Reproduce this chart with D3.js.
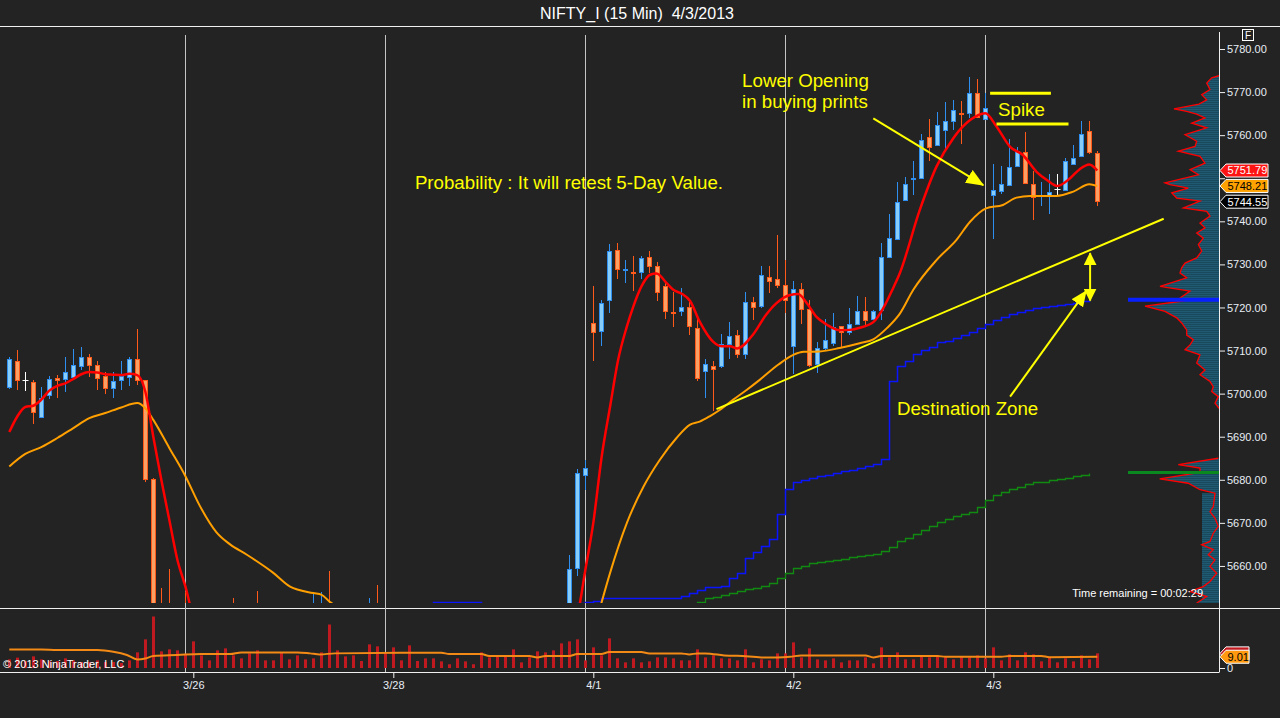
<!DOCTYPE html>
<html>
<head>
<meta charset="utf-8">
<title>NIFTY_I (15 Min) 4/3/2013</title>
<script src="https://cdn.jsdelivr.net/npm/d3@7/dist/d3.min.js"></script>
<style>
  html, body { margin: 0; padding: 0; background: #232323; overflow: hidden; }
  svg { display: block; font-family: Arial, "Liberation Sans", sans-serif; }
</style>
</head>
<body>
<svg id="chart" width="1280" height="718"></svg>
<script>
// 15 minute bars, 3/25 (partial) .. 4/3, indexed from the first bar on screen
const opens = [
  5701.5,5707.5,5703.1,5702.7,5694.5,5699.6,5703.6,5703.4,5703.8,5706.3,5708.5,5706.6,5704.1,5701.3,5703.1,5703.8,5708.0,5703.1,5680.2,5632.0,5630.0,5626.0,5628.0,
  5625,5634,5631,5636,5641,5638,5636,5640,5643,5639,5635,5638,5633,5637,5642,5640,5643,5648,5641,5637,5640,5635,5636,5645,5640,
  5636,5639,5641,5637,5640,5642,5639,5641,5643,5640,5642,5644,5641,5643,5645,5642,5646,5644,5646,5643,5647,5645,5648,5659.4,5681.0,
  5716.4,5714.4,5721.8,5733.3,5728.7,5728.3,5728.1,5731.7,5729.6,5724.9,5719.0,5719.1,5720.0,5715.2,5705.2,5706.4,5706.4,5711.5,5713.6,5709.2,5721.2,5720.3,5727.0,5726.6,5725.2,
  5711.0,5724.2,5719.6,5706.8,5710.6,5711.7,5715.7,5714.3,5716.1,5719.1,5717.3,5719.4,5731.7,5735.9,5744.9,5749.8,5750.0,5759.5,5757.7,5761.2,5763.2,5765.1,5765.1,5769.7,5763.7,
  5746.1,5747.0,5748.4,5752.8,5756.0,5748.6,5745.9,5746.1,5747.5,5747.2,5753.2,5755.1,5760.9,5755.8
];
const highs = [
  5708.4,5710.2,5705.0,5703.2,5701.6,5704.0,5704.4,5708.5,5710.4,5710.8,5709.3,5707.5,5705.0,5705.0,5707.5,5708.4,5715.0,5703.1,5680.5,5654.9,5659.3,5645.0,5654.0,
  5641,5642,5638,5646,5648,5652.6,5644,5647,5654.2,5645,5641,5646,5640,5645,5649,5653.7,5654.0,5658.9,5647,5644,5646,5642,5652.6,5655.6,5648,
  5644,5645,5647,5643,5646,5648,5644,5645,5647,5645,5646,5649,5646,5648,5649,5648,5649,5648,5650,5649,5650,5649.5,5662.6,5682.4,5684.6,
  5725.0,5721.8,5734.8,5734.9,5731.0,5732.0,5732.0,5733.1,5730.5,5725.8,5723.6,5724.5,5721.2,5717.9,5708.0,5707.5,5713.8,5716.6,5714.7,5723.6,5722.4,5729.6,5729.6,5736.8,5731.0,
  5726.1,5725.6,5721.7,5712.0,5717.3,5718.7,5715.7,5719.8,5722.6,5722.4,5719.4,5734.9,5741.6,5749.1,5750.2,5753.9,5760.2,5763.7,5765.3,5767.6,5768.1,5767.9,5773.4,5773.0,5769.7,
  5753.2,5752.8,5759.0,5757.2,5760.7,5751.6,5749.1,5750.9,5750.9,5754.6,5757.7,5763.2,5763.2,5756.3
];
const lows = [
  5701.3,5701.1,5700.9,5693.1,5694.5,5698.9,5699.3,5700.7,5703.4,5705.8,5704.0,5701.1,5700.1,5699.2,5701.0,5701.9,5702.2,5679.7,5628.0,5624.0,5622.0,5620.0,5622.0,
  5616,5628,5624,5630,5635,5634,5631,5633,5637,5632,5629,5630,5628,5632,5637,5636,5639,5638,5634,5630,5633,5629,5632,5636,5634,
  5630,5633,5635,5631,5636,5637,5634,5637,5638,5636,5639,5638,5636,5639,5640,5637,5642,5640,5641,5639,5642,5641,5646,5658.0,5677.8,
  5707.8,5711.3,5719.0,5726.9,5725.9,5724.1,5726.9,5728.2,5721.8,5717.5,5715.8,5718.3,5713.8,5703.1,5699.2,5696.2,5706.2,5708.2,5708.5,5708.2,5717.3,5720.2,5723.6,5724.7,5718.9,
  5704.8,5716.4,5706.4,5705.0,5710.3,5711.2,5710.8,5713.8,5716.1,5716.1,5717.3,5717.3,5731.7,5735.9,5744.9,5746.3,5750.0,5754.2,5757.7,5756.3,5761.4,5758.1,5764.2,5764.2,5763.7,
  5736.1,5746.5,5748.4,5752.8,5748.8,5740.5,5743.7,5741.9,5746.1,5747.2,5753.2,5755.1,5755.8,5743.7
];
const closes = [
  5708.0,5703.1,5703.1,5695.7,5699.0,5703.4,5703.1,5705.0,5706.6,5708.5,5706.6,5703.6,5701.3,5702.9,5704.1,5708.0,5703.1,5680.2,5632.0,5630.0,5626.0,5628.0,5625.0,
  5634,5631,5636,5641,5638,5636,5640,5643,5639,5635,5638,5633,5637,5642,5644,5646,5648,5641,5637,5640,5635,5638,5645,5640,5643,
  5639,5641,5637,5640,5642,5639,5641,5643,5640,5642,5644,5641,5643,5645,5642,5646,5644,5646,5643,5647,5645,5648,5659.4,5681.5,5682.7,
  5714.3,5721.0,5733.1,5729.0,5728.9,5728.1,5731.4,5729.6,5723.6,5719.1,5718.8,5720.0,5715.7,5703.6,5706.8,5705.7,5711.5,5713.3,5709.2,5721.2,5720.0,5727.5,5726.1,5725.2,5721.7,
  5724.2,5719.6,5706.6,5710.6,5712.4,5715.4,5714.3,5716.1,5719.1,5717.0,5719.1,5731.7,5736.1,5744.4,5748.6,5750.0,5758.8,5757.2,5762.3,5763.2,5765.8,5764.9,5769.7,5764.2,5766.2,
  5747.2,5748.6,5752.6,5756.3,5748.8,5745.6,5746.1,5746.8,5747.5,5753.9,5754.6,5760.2,5756.0,5744.55
];
const volumes = [
  6.9,8.3,5.6,9.3,6.9,5.6,5.6,7.7,6.1,4.8,4.8,6.1,4.8,4.8,4.0,6.1,12.5,22.9,41.2,13.3,14.9,14.1,11.4,
  21.3,10.1,6.1,14.1,15.7,10.1,7.7,11.7,14.1,6.1,6.1,12.5,6.9,10.1,6.9,7.7,12.5,34.8,14.1,9.3,10.1,5.6,18.9,17.3,11.7,
  16.5,6.1,18.1,5.6,7.7,7.7,5.3,3.0,7.7,5.3,3.0,12.5,8.5,9.3,10.1,14.9,4.5,8.5,13.3,12.5,14.1,19.7,21.3,22.9,6.1,
  16.5,10.1,23.7,7.7,4.5,7.7,4.5,5.3,8.5,8.5,7.7,6.1,6.1,14.9,8.5,10.1,7.7,7.7,6.1,14.9,4.5,6.9,6.1,11.7,11.7,
  20.5,8.5,15.7,6.9,6.1,7.7,4.5,6.1,6.1,8.5,3.7,16.5,8.5,12.5,6.9,6.9,10.1,8.5,10.1,8.5,6.9,9.3,8.5,10.1,7.7,
  16.5,6.1,10.9,6.1,12.5,10.9,5.3,8.5,4.5,7.7,5.3,10.1,6.9,11.7
];

// moving averages as [bar, value]
const fastMA = [[0,5691.1],[1,5694.7],[2,5696.9],[3,5697.2],[4,5698.6],[5,5700.7],[6,5701.8],[7,5702.4],[8,5703.4],[9,5704.5],[10,5705.0],[11,5704.9],[12,5704.5],[13,5704.4],[14,5704.3],[15,5704.6],[16,5704.3],[17,5700.5],[18,5690.0],[19,5680.0],[20,5670.7],[21,5661.5],[22,5655.3],[23,5648],[26,5638],[40,5636],[60,5638],[70,5641],[71,5648],[72,5659],[73,5670.0],[74.05,5685.4],[75.1,5697.0],[76.1,5707.8],[77.2,5715.6],[78,5720.2],[79.05,5725.0],[80.1,5727.6],[80.9,5727.9],[82.2,5725.6],[83,5724.1],[84.05,5723.2],[85.1,5721.5],[86.3,5716.7],[88,5712.0],[89,5711.0],[90.1,5711.0],[91,5710.5],[93,5713.8],[94.6,5718.3],[95.9,5721.0],[97.6,5722.9],[98.6,5723.1],[99.7,5721.0],[100.9,5717.8],[102.2,5716.0],[103.8,5714.7],[105.1,5714.8],[106.3,5715.3],[108,5716.6],[109.2,5719.7],[110.5,5724.6],[111.3,5727.9],[113.8,5742.6],[115.9,5752.7],[118,5759.3],[120.1,5763.5],[122,5765.1],[123.4,5762.0],[125.1,5757.3],[126.7,5755.4],[128.4,5751.5],[129.7,5749.6],[131,5748.2],[132.6,5750.0],[133.8,5752.1],[135,5753.2],[136,5751.79]];
const slowMA = [[0,5683.1],[2,5686.0],[4,5687.6],[6,5689.7],[8,5692.0],[10,5694.3],[12,5695.5],[14,5696.8],[16,5697.8],[17,5696.6],[18,5693.9],[20,5687.4],[22,5680.9],[23.8,5674.0],[25.9,5667.8],[27.6,5665.0],[29.7,5662.6],[33,5658.4],[35.1,5655.2],[38,5653.7],[39.05,5653.3],[40.1,5651.6],[41.1,5650.5],[50,5646],[60,5643],[70,5641],[73,5644.5],[74,5651.3],[75.1,5658.4],[77.2,5670.0],[79.3,5678.5],[81.3,5684.6],[83.4,5689.7],[85.1,5692.8],[86.3,5693.5],[87.6,5694.8],[88.8,5696.2],[90.5,5698.6],[92.2,5700.9],[93.8,5703.2],[96.1,5706.7],[98,5709.0],[99.3,5709.7],[101.3,5709.8],[103.8,5710.6],[106.3,5711.7],[108,5712.6],[109.7,5715.2],[111.3,5718.5],[113,5724.1],[115.9,5731.0],[118.4,5735.7],[120.1,5739.9],[122.1,5743.0],[124.2,5743.8],[125.9,5745.5],[127.6,5745.9],[130.9,5745.9],[133,5746.9],[135,5748.6],[136,5748.21]];
const volumeMA = [[0,14.9],[4,14.9],[6,14.4],[11,14.4],[13,13.0],[14.7,10.4],[16,6.9],[17,7.6],[18,9.6],[21,10.4],[24,11.2],[27.6,11.2],[29,12.5],[36,12.5],[37.6,11.7],[38.8,10.9],[40.7,11.7],[51,12.2],[54,12.2],[55,11.2],[59,11.2],[60,9.6],[65,9.6],[66,8.5],[67,9.6],[70,9.6],[71,11.2],[74,11.2],[75,12.8],[79,12.8],[80,11.7],[84,11.7],[85,10.9],[86,11.7],[87,11.7],[90,9.8],[91,9.8],[94,8.5],[96,8.5],[97.6,9.0],[99,10.1],[104,10.1],[107,10.1],[108,8.5],[109,9.6],[116,9.6],[117,9.0],[124,9.0],[125,9.6],[129,9.6],[130,8.7],[136,9.01]];

// developing levels, one value per bar, first bar given by the start index
const blueStart = 48;
const blueLevel = [5646,5646,5646,5646,5646,5651.7,5651.7,5651.7,5651.7,5651.7,5651.7,5649,5649,5649,5649,5649,5649,5649,5649,5649,5649,5649,5649,5651.3,5651.6,5651.9,
  5652.5,5652.5,5652.5,5652.5,5652.5,5652.5,5652.5,5652.5,5652.5,5652.5,5653.1,5653.7,5654.5,5655.1,5655.1,5655.4,5657.2,5658.4,5661.9,5663.3,5664.7,5666.3,5672.0,5677.9,
  5679.6,5680.0,5680.4,5680.8,5681.2,5681.6,5682.0,5682.3,5682.7,5683.2,5683.7,5684.8,5703.0,5706.3,5707.6,5709.2,5710.2,5710.9,5711.9,5712.3,5712.9,5713.5,5714.3,5715.2,5716.2,
  5717.1,5717.9,5718.5,5719.0,5719.4,5719.8,5720.1,5720.4,5720.6,5720.8,5721.1,5721.4,5721.8];
const greenStart = 85;
const greenLevel = [5648,5651.6,5652.5,5652.8,5653.2,5653.7,5654.1,5654.6,5654.9,5655.4,5656.0,5657.2,5658.4,
  5659.5,5660.1,5660.7,5660.9,5661.2,5661.4,5661.7,5662.0,5662.2,5662.5,5662.7,5663.4,5664.4,5665.7,5666.5,5667.4,5668.4,5669.2,5670.1,5670.9,5671.5,5672.0,5672.6,5673.6,5675.4,
  5676.5,5677.1,5677.8,5678.4,5679.0,5679.4,5679.6,5680.0,5680.2,5680.5,5680.8,5681.0,5681.6];

// volume profile on the right edge
const profileTopPrice = [5773.8,5773.3,5772.1,5770.6,5769.4,5768.2,5767.2,5766.1,5765.5,5764.9,5764.0,5762.8,5761.7,5760.1,5758.6,5757.4,5756.3,5755.1,5753.5,5752.0,5750.8,5748.9,5748.5,5747.7,5746.6,5745.4,5744.7,5743.1,5742.3,5741.2,5739.6,5738.5,5737.3,5736.1,5734.6,5733.1,5731.5,5730.3,5729.2,5728.0,5726.9,5724.9,5723.8,5722.2,5721.5,5720.3,5719.1,5717.6,5716.4,5715.3,5714.8,5713.6,5712.5,5711.3,5710.2,5709.0,5707.1,5705.5,5704.4,5702.8,5701.6,5700.5,5699.3,5697.8,5696.6];
const profileTopVol = [0,7.3,12.3,9,17.3,12.3,20,45,32.3,22.3,14,27.3,12.3,34,22.3,24,40.7,19,14,29,20.7,54,49,30.7,47.3,42.3,19,35.7,12.3,9,19,14,22.3,15.7,20.7,17.3,22.3,34,37.3,39,32.3,59,29,39,35.7,74,54,42.3,37.3,34,32.3,32.3,25.7,29,34,19,22.3,14,19,9,5.7,7.3,0.7,4,0];
const profileLowPrice = [5685.0,5683.5,5682.7,5681.7,5680.2,5679.2,5677.7,5676.9,5673.8,5672.6,5671.1,5669.2,5667.6,5665.7,5664.9,5663.8,5662.6,5661.4,5659.9,5658.3,5656.4,5655.2,5654.1,5652.9,5651.4];
const profileLowVol = [0.7,40.7,19,19,59.3,30.7,19,4,5.7,9,4,0.7,5.7,9,17.3,5.7,10.7,4,9,2.3,9,15.7,29,12.3,22.3];
const sessionFillPrice = [5676.9, 5651.4];
const sessionFillVol = [17, 17];
const pocBlue = 5721.8;
const pocGreen = 5681.7;

const sessionEnds = [22, 47, 72, 97, 122];
const sessionStarts = [23, 48, 73, 98, 123];
const dayLabels = ['3/26', '3/28', '4/1', '4/2', '4/3'];
const priceTicks = d3.range(5660, 5781, 10);

// drawing tool objects, in [bar, price]
const trendLine = [[88.4, 5696.4], [144.3, 5740.6]];
const openingArrow = [[108, 5763.9], [121.75, 5748.4]];
const spikeLines = [[[122.6, 5769.7], [130.2, 5769.7]], [[123.4, 5762.6], [132.4, 5762.6]]];
const zoneArrow = [[125.1, 5699.3], [134.6, 5723.8]];
const doubleArrow = [[135.1, 5732.6], [135.1, 5721.6]];
const notes = [
  { text: 'Lower Opening', bar: 91.6, price: 5771.2 },
  { text: 'in buying prints', bar: 91.6, price: 5766.3 },
  { text: 'Spike', bar: 123.6, price: 5764.5 },
  { text: 'Probability : It will retest 5-Day Value.', bar: 50.7, price: 5747.4 },
  { text: 'Destination Zone', bar: 110.96, price: 5695.0 }
];

// ---------------------------------------------------------------
const svg = d3.select('#chart');
const width = +svg.attr('width');
const height = +svg.attr('height');

const axisX = 1219;
const price = { top: 28, bottom: 603 };
const vol = { top: 608, bottom: 672 };

const x = d3.scaleLinear().domain([0, 136]).range([9.3, 1097.3]);
const y = d3.scaleLinear().domain([5651.4, 5780]).range([603, 49]);
const yVol = d3.scaleLinear().domain([0, 48]).range([668, 608]);
const prof = d3.scaleLinear().domain([0, 100]).range([0, 100]);

const px = i => Math.round(x(i)) + 0.5;
const crisp = v => Math.round(v) + 0.5;

const up = { stroke: '#2f8ff0', fill: '#87cdf7' };
const down = { stroke: '#ff5a1a', fill: '#f9a064' };
const textColor = '#e8edf5';
const tagHeight = 13;

svg.append('rect').attr('width', width).attr('height', height).attr('fill', '#232323');

const defs = svg.append('defs');
defs.append('clipPath').attr('id', 'clipPrice')
  .append('rect').attr('x', 0).attr('y', price.top).attr('width', axisX).attr('height', price.bottom - price.top);
defs.append('clipPath').attr('id', 'clipVol')
  .append('rect').attr('x', 0).attr('y', vol.top + 1).attr('width', axisX).attr('height', vol.bottom - vol.top - 1);

const stripe = defs.append('pattern').attr('id', 'stripe')
  .attr('patternUnits', 'userSpaceOnUse').attr('width', 4).attr('height', 2);
stripe.append('rect').attr('width', 4).attr('height', 2).attr('fill', '#1f5a72');
stripe.append('rect').attr('width', 4).attr('height', 1).attr('fill', '#18495d');

function arrowMarker(id, len, wid) {
  defs.append('marker').attr('id', id)
    .attr('markerUnits', 'userSpaceOnUse')
    .attr('markerWidth', len).attr('markerHeight', wid)
    .attr('refX', len - 1).attr('refY', wid / 2)
    .attr('orient', 'auto-start-reverse')
    .append('path').attr('d', `M0,0L${len},${wid / 2}L0,${wid}Z`).attr('fill', '#ffff00');
}
arrowMarker('headBig', 18, 15);
arrowMarker('headMid', 16, 14);
arrowMarker('headSmall', 13, 13);

// frame
const frame = svg.append('g').attr('stroke', '#f0f0f0').attr('stroke-width', 1);
frame.append('line').attr('x1', 0).attr('x2', width).attr('y1', 26.5).attr('y2', 26.5);
frame.append('line').attr('x1', 0).attr('x2', width).attr('y1', vol.top + 0.5).attr('y2', vol.top + 0.5);
frame.append('line').attr('x1', 0).attr('x2', axisX).attr('y1', vol.bottom + 0.5).attr('y2', vol.bottom + 0.5);
frame.append('line').attr('x1', axisX + 0.5).attr('x2', axisX + 0.5).attr('y1', 32).attr('y2', vol.bottom + 0.5);

// session breaks
svg.append('g').selectAll('line').data(sessionEnds).join('line')
  .attr('x1', d => px(d)).attr('x2', d => px(d))
  .attr('y1', 35).attr('y2', vol.bottom)
  .attr('stroke', '#c4c4c4').attr('stroke-width', 1);

// price panel
const pg = svg.append('g').attr('clip-path', 'url(#clipPrice)');

const stepLine = d3.line().x(d => px(d[0])).y(d => crisp(y(d[1]))).curve(d3.curveStepAfter);
pg.append('path').datum(greenLevel.map((v, k) => [greenStart + k, v]))
  .attr('d', stepLine).attr('fill', 'none').attr('stroke', '#118a11').attr('stroke-width', 1.3);
pg.append('path').datum(blueLevel.map((v, k) => [blueStart + k, v]))
  .attr('d', stepLine).attr('fill', 'none').attr('stroke', '#0a14ff').attr('stroke-width', 1.5);

const bars = opens.map((o, i) => ({ i, o, h: highs[i], l: lows[i], c: closes[i] }));
const colorOf = d => d.c > d.o ? up.stroke : d.c < d.o ? down.stroke : '#ffffff';

pg.append('g').selectAll('line').data(bars).join('line')
  .attr('x1', d => px(d.i)).attr('x2', d => px(d.i))
  .attr('y1', d => Math.round(y(d.h))).attr('y2', d => Math.round(y(d.l)) + 1)
  .attr('stroke', colorOf).attr('stroke-width', 1);

pg.append('g').selectAll('rect').data(bars.filter(d => d.o !== d.c)).join('rect')
  .attr('x', d => px(d.i) - 2)
  .attr('width', 4)
  .attr('y', d => crisp(y(Math.max(d.o, d.c))))
  .attr('height', d => Math.max(1, Math.round(Math.abs(y(d.o) - y(d.c)))))
  .attr('fill', d => d.c > d.o ? up.fill : down.fill)
  .attr('stroke', colorOf).attr('stroke-width', 1);

pg.append('g').selectAll('line').data(bars.filter(d => d.o === d.c)).join('line')
  .attr('x1', d => px(d.i) - 3).attr('x2', d => px(d.i) + 3)
  .attr('y1', d => crisp(y(d.o))).attr('y2', d => crisp(y(d.o)))
  .attr('stroke', '#ffffff').attr('stroke-width', 1);

const maLine = d3.line().x(d => x(d[0])).y(d => y(d[1])).curve(d3.curveMonotoneX);
pg.append('path').datum(slowMA).attr('d', maLine)
  .attr('fill', 'none').attr('stroke', '#ffa000').attr('stroke-width', 2);
pg.append('path').datum(fastMA).attr('d', maLine)
  .attr('fill', 'none').attr('stroke', '#ff0000').attr('stroke-width', 2.5);

// volume profile
const profArea = d3.area().y(d => y(d[0])).x0(axisX).x1(d => axisX - prof(d[1]));
const profLine = d3.line().y(d => y(d[0])).x(d => axisX - prof(d[1]));
const topProfile = profileTopPrice.map((p, k) => [p, profileTopVol[k]]);
const lowProfile = profileLowPrice.map((p, k) => [p, profileLowVol[k]]);
const sessionFill = sessionFillPrice.map((p, k) => [p, sessionFillVol[k]]);
const pf = svg.append('g').attr('clip-path', 'url(#clipPrice)');
pf.append('path').datum(sessionFill).attr('d', profArea).attr('fill', 'url(#stripe)');
[topProfile, lowProfile].forEach(data => {
  pf.append('path').datum(data).attr('d', profArea).attr('fill', 'url(#stripe)');
  pf.append('path').datum(data).attr('d', profLine).attr('fill', 'none').attr('stroke', '#ff0000').attr('stroke-width', 1.3);
});
pf.append('line').attr('x1', axisX - 91).attr('x2', axisX).attr('y1', y(pocBlue)).attr('y2', y(pocBlue))
  .attr('stroke', '#0820ff').attr('stroke-width', 4);
pf.append('line').attr('x1', axisX - 91).attr('x2', axisX).attr('y1', y(pocGreen)).attr('y2', y(pocGreen))
  .attr('stroke', '#0a8a1e').attr('stroke-width', 3);

// volume panel
const vg = svg.append('g').attr('clip-path', 'url(#clipVol)');
vg.append('g').selectAll('rect').data(volumes).join('rect')
  .attr('x', (v, i) => Math.round(x(i)) - 1)
  .attr('width', 3)
  .attr('y', v => yVol(v))
  .attr('height', v => yVol(0) - yVol(v))
  .attr('fill', '#c01a20');
vg.append('path').datum(volumeMA)
  .attr('d', d3.line().x(d => x(d[0])).y(d => yVol(d[1])).curve(d3.curveMonotoneX))
  .attr('fill', 'none').attr('stroke', '#f48a16').attr('stroke-width', 2);

// value tags on the axis (last values of the plotted series)
const fmt = d3.format('.2f');
const lastFast = fastMA[fastMA.length - 1][1];
const lastSlow = slowMA[slowMA.length - 1][1];
const lastClose = closes[closes.length - 1];
const lastVolume = volumes[volumes.length - 1];
const lastVolumeMA = volumeMA[volumeMA.length - 1][1];
const priceTags = [
  { yc: y(lastFast), fill: '#ff1414', color: '#ffffff', label: fmt(lastFast) },
  { yc: y(lastSlow), fill: '#ffa200', color: '#000000', label: fmt(lastSlow) },
  { yc: y(lastClose), fill: '#000000', color: '#ffffff', label: fmt(lastClose) }
];

// axes; tick labels hidden under a value tag are left out, as on screen
const coveredByTag = v => priceTags.some(t => Math.abs(y(v) - t.yc) < tagHeight);
function styleAxis(g) {
  g.select('.domain').remove();
  g.selectAll('.tick line').attr('stroke', '#f0f0f0');
  g.selectAll('.tick text').attr('fill', textColor).attr('font-size', 11).attr('font-family', 'Arial, "Liberation Sans", sans-serif');
}
svg.append('g').attr('transform', `translate(${axisX},0)`)
  .call(d3.axisRight(y).tickValues(priceTicks)
    .tickFormat(v => coveredByTag(v) ? '' : d3.format('.2f')(v)).tickSize(6).tickPadding(2))
  .call(styleAxis);
svg.append('g').attr('transform', `translate(${axisX},0)`)
  .call(d3.axisRight(yVol).tickValues([0]).tickSize(6).tickPadding(2))
  .call(styleAxis);
svg.append('g').attr('transform', `translate(0,${vol.bottom})`)
  .call(d3.axisBottom(x).tickValues(sessionStarts).tickFormat((d, k) => dayLabels[k]).tickSize(6).tickPadding(3))
  .call(styleAxis);

function tag(yc, w, fill, color, label) {
  const h = tagHeight;
  const g = svg.append('g');
  const pts = [[axisX + 1, yc], [axisX + 7, yc - h / 2], [axisX + 1 + w, yc - h / 2], [axisX + 1 + w, yc + h / 2], [axisX + 7, yc + h / 2]];
  g.append('path').attr('d', d3.line()(pts) + 'Z').attr('fill', fill).attr('stroke', '#ffffff').attr('stroke-width', 1);
  if (label) {
    g.append('text').attr('x', axisX + 8.5).attr('y', yc).attr('dy', '0.36em')
      .attr('fill', color).attr('font-size', 11).text(label);
  }
}
priceTags.forEach(t => tag(t.yc, 48, t.fill, t.color, t.label));
// last volume tag sits behind the average tag, only its edge shows
tag(yVol(lastVolume), 29, '#c01a20', '#ffffff', null);
tag(yVol(lastVolumeMA), 29, '#ff9a10', '#000000', fmt(lastVolumeMA));

// drawing tools
const ann = svg.append('g').attr('stroke', '#ffff00').attr('fill', 'none');
const seg = d3.line().x(d => x(d[0])).y(d => y(d[1]));
ann.append('path').datum(trendLine).attr('d', seg).attr('stroke-width', 2);
ann.append('path').datum(openingArrow).attr('d', seg).attr('stroke-width', 2).attr('marker-end', 'url(#headBig)');
spikeLines.forEach(l => ann.append('path').datum(l).attr('d', seg).attr('stroke-width', 3));
ann.append('path').datum(zoneArrow).attr('d', seg).attr('stroke-width', 2).attr('marker-end', 'url(#headMid)');
ann.append('path').datum(doubleArrow).attr('d', seg).attr('stroke-width', 2)
  .attr('marker-start', 'url(#headSmall)').attr('marker-end', 'url(#headSmall)');

svg.append('g').selectAll('text').data(notes).join('text')
  .attr('x', d => x(d.bar)).attr('y', d => y(d.price))
  .attr('fill', '#ffff00').attr('font-size', 18.7)
  .text(d => d.text);

// chrome text
svg.append('text').attr('x', 637).attr('y', 19).attr('text-anchor', 'middle')
  .attr('fill', '#ffffff').attr('font-size', 16).style('white-space', 'pre')
  .text('NIFTY_I (15 Min)  4/3/2013');
svg.append('text').attr('x', 3).attr('y', 668).attr('fill', '#ffffff').attr('font-size', 11)
  .text('\u00a9 2013 NinjaTrader, LLC');
svg.append('text').attr('x', 1203).attr('y', 597).attr('text-anchor', 'end').attr('fill', '#ffffff').attr('font-size', 11)
  .text('Time remaining = 00:02:29');
svg.append('rect').attr('x', 1242.5).attr('y', 29.5).attr('width', 11).attr('height', 11)
  .attr('fill', 'none').attr('stroke', '#ffffff');
svg.append('text').attr('x', 1248).attr('y', 39).attr('text-anchor', 'middle').attr('fill', '#ffffff').attr('font-size', 10)
  .text('F');
</script>
</body>
</html>
